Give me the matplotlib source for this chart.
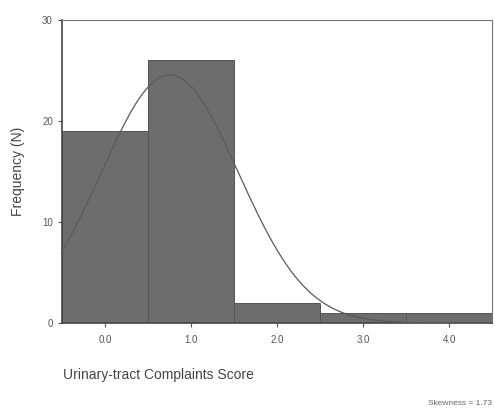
import numpy as np
import matplotlib.pyplot as plt

plt.rcParams['font.family'] = ['Liberation Sans', 'DejaVu Sans']

# histogram data
scores = [0, 1, 2, 3, 4]
counts = [19, 26, 2, 1, 1]
tick_labels = ["0.0", "1.0", "2.0", "3.0", "4.0"]
skew_text = "Skewness = 1.73"

fig = plt.figure(figsize=(4.95, 4.13), dpi=100)
ax = fig.add_axes([0.125, 0.218, 0.869, 0.734])

ax.bar(scores, counts, width=1.0, color="#6d6d6d", edgecolor="#555555", linewidth=0.7, zorder=2)

# fitted normal curve (from the counts)
s = np.array(scores, dtype=float)
c = np.array(counts, dtype=float)
n = c.sum()
mu = (s * c).sum() / n
sd = np.sqrt((c * (s - mu) ** 2).sum() / n)
xs = np.linspace(-0.5, 4.5, 300)
ys = n * np.exp(-0.5 * ((xs - mu) / sd) ** 2) / (sd * np.sqrt(2 * np.pi))
ax.plot(xs, ys, color="#5a5a5a", linewidth=0.9, zorder=3)

ax.set_xlim(-0.5, 4.5)
ax.set_ylim(0, 30)
ax.set_xticks(scores)
ax.set_xticklabels(tick_labels)
ax.set_yticks([0, 10, 20, 30])
ax.tick_params(axis="both", labelsize=7, colors="#555555", length=3, width=0.8, direction="out")
ax.tick_params(axis="x", pad=6)

for side in ["top", "right"]:
    ax.spines[side].set_color("#777777")
    ax.spines[side].set_linewidth(0.8)
for side in ["left", "bottom"]:
    ax.spines[side].set_color("#444444")
    ax.spines[side].set_linewidth(1.2)

ax.set_ylabel("Frequency (N)", fontsize=10, color="#444444", labelpad=12)
fig.text(0.127, 0.092, "Urinary-tract Complaints Score", fontsize=10, color="#444444", ha="left", va="center")
fig.text(0.994, 0.022, skew_text, fontsize=6, color="#666666", ha="right", va="center")

plt.savefig("out.png", dpi=100)
